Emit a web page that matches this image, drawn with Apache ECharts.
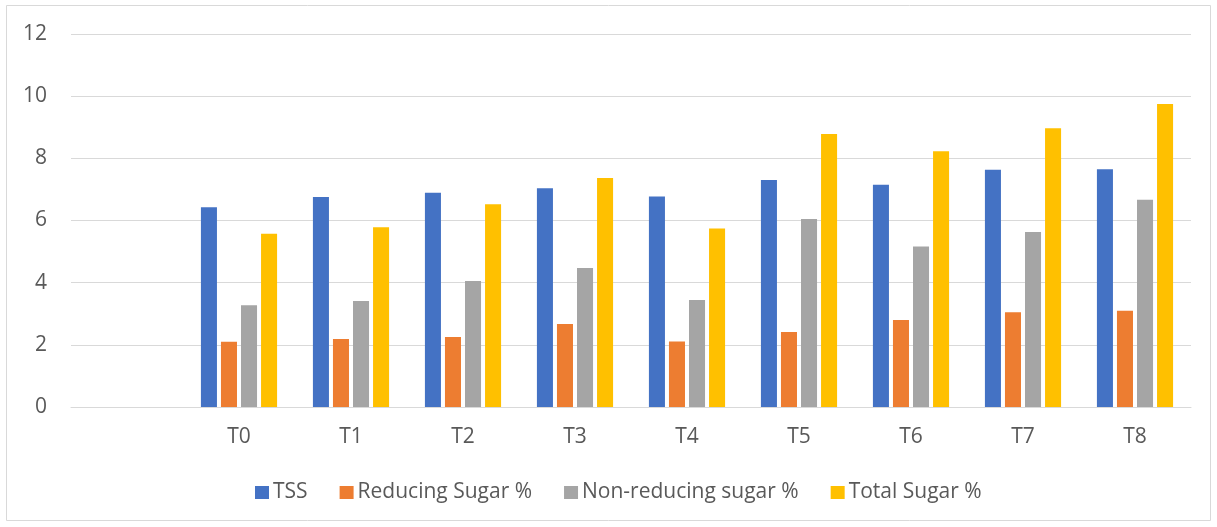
<!DOCTYPE html>
<html>
<head>
<meta charset="utf-8">
<script src="https://cdn.jsdelivr.net/npm/echarts@6/dist/echarts.min.js"></script>
<style>
  html, body { margin: 0; padding: 0; background: #fff; }
  #chart { width: 1217px; height: 527px; }
</style>
</head>
<body>
<div id="chart"></div>
<script>
// Category axis: the leading empty slot is kept as a blank category
const categories = ['', 'T0', 'T1', 'T2', 'T3', 'T4', 'T5', 'T6', 'T7', 'T8'];

const tss            = [null, 6.43, 6.76, 6.89, 7.04, 6.77, 7.30, 7.15, 7.63, 7.65];
const reducingSugar  = [null, 2.10, 2.19, 2.25, 2.67, 2.11, 2.41, 2.80, 3.05, 3.10];
const nonReducing    = [null, 3.27, 3.41, 4.05, 4.47, 3.44, 6.05, 5.16, 5.63, 6.67];
const totalSugar     = [null, 5.57, 5.78, 6.52, 7.37, 5.74, 8.78, 8.23, 8.97, 9.75];

const seriesNames = ['TSS', 'Reducing Sugar %', 'Non-reducing sugar %', 'Total Sugar %'];
const seriesColors = ['#4472C4', '#ED7D31', '#A5A5A5', '#FFC000'];
const seriesData = [tss, reducingSugar, nonReducing, totalSugar];

const FONT = '"Open Sans", Lato, sans-serif';
const FONT_SIZE = 21;
const chart = echarts.init(document.getElementById('chart'), null, { renderer: 'canvas' });

chart.setOption({
  animation: false,
  backgroundColor: '#ffffff',
  textStyle: { fontFamily: FONT },
  graphic: [{
    type: 'rect',
    shape: { x: 6.5, y: 5.5, width: 1204, height: 515 },
    style: { fill: 'none', stroke: '#d9d9d9', lineWidth: 1 },
    silent: true
  }],
  grid: { left: 71, right: 26, top: 34, bottom: 120 },
  legend: {
    left: 250,
    top: 477,
    itemWidth: 14,
    itemHeight: 13,
    itemGap: 32,
    icon: 'rect',
    textStyle: { color: '#595959', fontSize: FONT_SIZE, fontFamily: FONT, padding: [0, 0, 0, -1] },
    data: seriesNames
  },
  xAxis: {
    type: 'category',
    data: categories,
    axisLine: { show: true, lineStyle: { color: '#d9d9d9', width: 1 } },
    axisTick: { show: false },
    axisLabel: { color: '#595959', fontSize: FONT_SIZE, margin: 20, fontFamily: FONT }
  },
  yAxis: {
    type: 'value',
    min: 0,
    max: 12,
    interval: 2,
    axisLine: { show: false },
    axisTick: { show: false },
    splitLine: { lineStyle: { color: '#d9d9d9', width: 1 } },
    axisLabel: { color: '#595959', fontSize: FONT_SIZE, margin: 24, fontFamily: FONT }
  },
  series: seriesNames.map((name, i) => ({
    name: name,
    type: 'bar',
    data: seriesData[i],
    barGap: '25%',
    barCategoryGap: '32%',
    itemStyle: { color: seriesColors[i] }
  }))
});
</script>
</body>
</html>
